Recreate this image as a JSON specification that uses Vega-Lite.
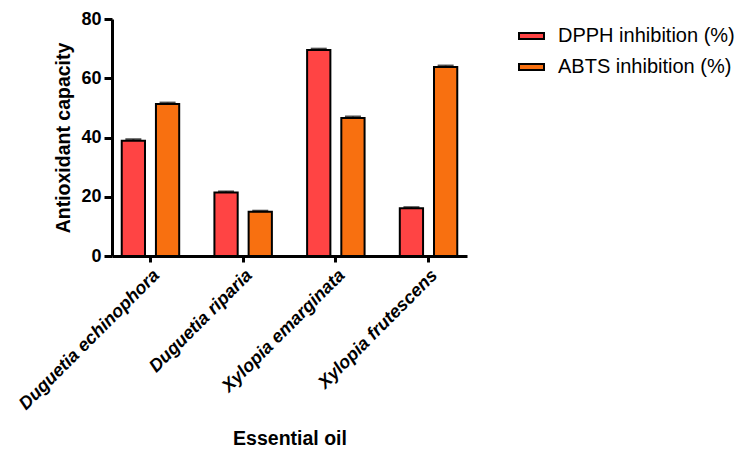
{
  "$schema": "https://vega.github.io/schema/vega-lite/v6.json",
  "width": 355,
  "height": 237,
  "autosize": "none",
  "padding": {"left": 112, "top": 19, "right": 271, "bottom": 204},
  "background": "white",
  "config": {
    "view": {"stroke": null},
    "font": "Liberation Sans",
    "axis": {
      "domainColor": "black",
      "domainWidth": 3,
      "tickColor": "black",
      "tickWidth": 3,
      "grid": false,
      "labelColor": "black",
      "titleColor": "black",
      "labelFont": "Liberation Sans",
      "titleFont": "Liberation Sans",
      "labelFontWeight": "bold",
      "titleFontWeight": "bold",
      "titleFontSize": 19.5,
      "labelFontSize": 18,
      "labelLimit": 400
    }
  },
  "data": {
    "values": [
      {"oil": "Duguetia echinophora", "assay": "DPPH inhibition (%)", "value": 38.9, "err": 0.4},
      {"oil": "Duguetia echinophora", "assay": "ABTS inhibition (%)", "value": 51.3, "err": 0.4},
      {"oil": "Duguetia riparia", "assay": "DPPH inhibition (%)", "value": 21.4, "err": 0.3},
      {"oil": "Duguetia riparia", "assay": "ABTS inhibition (%)", "value": 14.9, "err": 0.3},
      {"oil": "Xylopia emarginata", "assay": "DPPH inhibition (%)", "value": 69.5, "err": 0.4},
      {"oil": "Xylopia emarginata", "assay": "ABTS inhibition (%)", "value": 46.6, "err": 0.4},
      {"oil": "Xylopia frutescens", "assay": "DPPH inhibition (%)", "value": 16.1, "err": 0.3},
      {"oil": "Xylopia frutescens", "assay": "ABTS inhibition (%)", "value": 63.8, "err": 0.4}
    ]
  },
  "transform": [{"calculate": "datum.value + datum.err", "as": "top"}],
  "encoding": {
    "x": {
      "field": "oil",
      "type": "nominal",
      "sort": null,
      "title": "Essential oil",
      "scale": {"paddingInner": 0.38, "paddingOuter": 0.105},
      "axis": {
        "labelAngle": -45,
        "labelFontStyle": "italic",
        "tickSize": 6,
        "labelPadding": 4,
        "labelLimit": 400,
        "titlePadding": 16
      }
    },
    "xOffset": {
      "field": "assay",
      "type": "nominal",
      "sort": ["DPPH inhibition (%)", "ABTS inhibition (%)"],
      "scale": {"paddingInner": 0.32, "paddingOuter": 0}
    }
  },
  "layer": [
    {
      "mark": {"type": "bar", "stroke": "black", "strokeWidth": 2},
      "encoding": {
        "y": {
          "field": "value",
          "type": "quantitative",
          "title": "Antioxidant capacity",
          "scale": {"domain": [0, 80], "nice": false},
          "axis": {"values": [0, 20, 40, 60, 80], "tickSize": 8, "labelPadding": 3, "titlePadding": 7}
        },
        "color": {
          "field": "assay",
          "type": "nominal",
          "sort": ["DPPH inhibition (%)", "ABTS inhibition (%)"],
          "scale": {"domain": ["DPPH inhibition (%)", "ABTS inhibition (%)"], "range": ["#FF4444", "#F87010"]},
          "legend": {
            "title": null,
            "orient": "none",
            "legendX": 406,
            "legendY": 3.5,
            "symbolType": "M-1,-0.24H1V0.24H-1Z",
            "symbolSize": 625,
            "symbolStrokeColor": "black",
            "symbolStrokeWidth": 2,
            "symbolOpacity": 1,
            "labelFontSize": 20,
            "labelFont": "Liberation Sans",
            "labelColor": "black",
            "labelOffset": 13,
            "rowPadding": 7,
            "labelLimit": 300
          }
        }
      }
    },
    {
      "mark": {"type": "rule", "color": "black", "strokeWidth": 2},
      "encoding": {
        "y": {"field": "value", "type": "quantitative"},
        "y2": {"field": "top"}
      }
    },
    {
      "mark": {"type": "tick", "color": "black", "thickness": 2.5, "size": 16},
      "encoding": {
        "y": {"field": "top", "type": "quantitative"}
      }
    }
  ]
}
